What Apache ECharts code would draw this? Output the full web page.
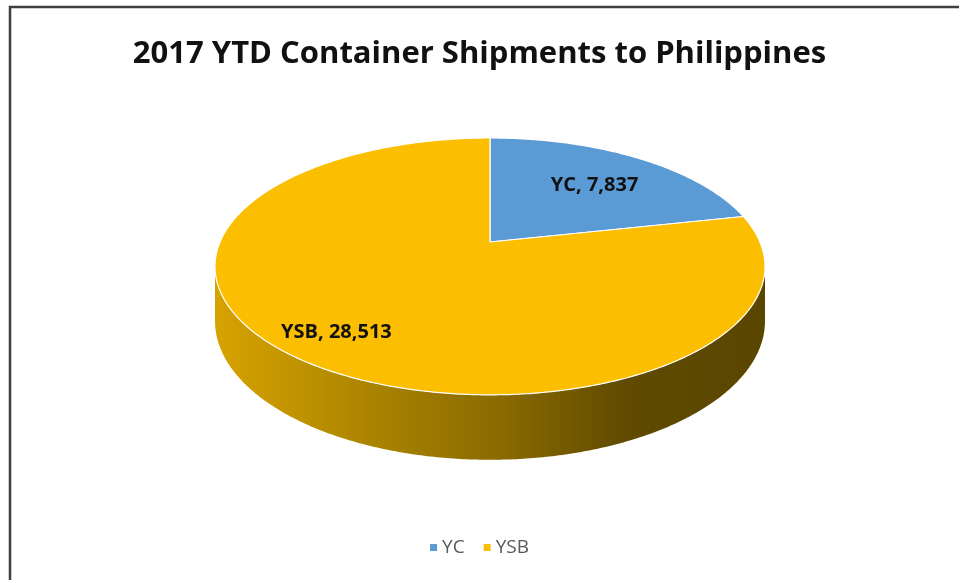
<!DOCTYPE html>
<html>
<head>
<meta charset="utf-8">
<title>2017 YTD Container Shipments to Philippines</title>
<script src="https://cdn.jsdelivr.net/npm/echarts@6/dist/echarts.min.js"></script>
<style>
    html, body { margin: 0; padding: 0; background: #fff; }
    #chart { width: 959px; height: 580px; }
</style>
</head>
<body>
<div id="chart"></div>
<script>
// data
var categories = ['YC', 'YSB'];
var values = [7837, 28513];
var colors = ['#5B9BD5', '#FBBE00'];
var labelRadius = [0.68, 0.8]; // where the label sits, as part of the radius

// 3D pie look: a circle seen in perspective
var CX = 490, CY = 242, RX = 270, RY = 123.8, K = 0.19, DEPTH = 52.6;

var total = values.reduce(function (a, b) { return a + b; }, 0);

function proj(x, z, h) {
    var w = 1 / (1 + K * z);
    return [CX + RX * x * w, CY - RY * z * w + DEPTH * h * w];
}
function rim(t, h) {
    return proj(Math.sin(t), Math.cos(t), h);
}

function arcPoints(a, b, h) {
    var pts = [];
    var n = Math.max(2, Math.ceil((b - a) / 0.01));
    for (var i = 0; i <= n; i++) {
        pts.push(rim(a + (b - a) * i / n, h));
    }
    return pts;
}

var wallFill = new echarts.graphic.LinearGradient(215, 0, 765, 0, [
    {offset: 0, color: '#D7A300'},
    {offset: 0.3, color: '#A88200'},
    {offset: 0.52, color: '#8A6A00'},
    {offset: 0.75, color: '#5F4A00'},
    {offset: 1, color: '#5A4600'}
], true);

function renderSlice(params, api) {
    var i = params.seriesIndex;
    var before = 0;
    for (var j = 0; j < i; j++) before += values[j];
    var start = before / total * Math.PI * 2;
    var end = (before + api.value(0)) / total * Math.PI * 2;
    var children = [];

    // side wall, only the front part can be seen
    var v0 = Math.acos(-K), v1 = Math.PI * 2 - Math.acos(-K);
    var s = Math.max(start, v0), e = Math.min(end, v1);
    if (e > s) {
        var wall = arcPoints(s, e, 0).concat(arcPoints(s, e, 1).reverse());
        children.push({
            type: 'polygon',
            shape: {points: wall},
            style: {fill: wallFill, stroke: null}
        });
    }

    // top face
    var top = [proj(0, 0, 0)].concat(arcPoints(start, end, 0));
    children.push({
        type: 'polygon',
        shape: {points: top},
        style: {fill: colors[i], stroke: '#ffffff', lineWidth: 1.2, lineJoin: 'round'}
    });

    // data label
    var mid = (start + end) / 2, r = labelRadius[i];
    var p = proj(r * Math.sin(mid), r * Math.cos(mid), 0);
    children.push({
        type: 'text',
        x: p[0],
        y: p[1] + 3,
        style: {
            text: categories[i] + ', ' + echarts.format.addCommas(api.value(0)),
            fill: '#111111',
            font: 'bold 20px "Open Sans"',
            align: 'center',
            verticalAlign: 'middle'
        }
    });

    return {type: 'group', children: children};
}

var myChart = echarts.init(document.getElementById('chart'));

var series = categories.map(function (name, i) {
    return {
        name: name,
        type: 'custom',
        coordinateSystem: 'none',
        renderItem: renderSlice,
        itemStyle: {color: colors[i]},
        data: [values[i]],
        silent: true,
        z: 2
    };
});

var option = {
    animation: false,
    title: {
        text: '2017 YTD Container Shipments to Philippines',
        left: 'center',
        top: 34,
        textStyle: {
            fontFamily: 'Open Sans',
            fontWeight: 'bold',
            fontSize: 31,
            color: '#111111'
        }
    },
    legend: {
        data: categories,
        top: 533,
        left: 'center',
        icon: 'rect',
        itemWidth: 7,
        itemHeight: 7,
        itemGap: 19,
        selectedMode: false,
        textStyle: {
            fontFamily: 'Open Sans',
            fontSize: 19,
            color: '#595959'
        }
    },
    graphic: [{
        type: 'rect',
        shape: {x: 10, y: 7, width: 1000, height: 1000},
        style: {fill: null, stroke: '#3f3f3f', lineWidth: 2.5},
        silent: true
    }],
    series: series
};

myChart.setOption(option);
</script>
</body>
</html>
